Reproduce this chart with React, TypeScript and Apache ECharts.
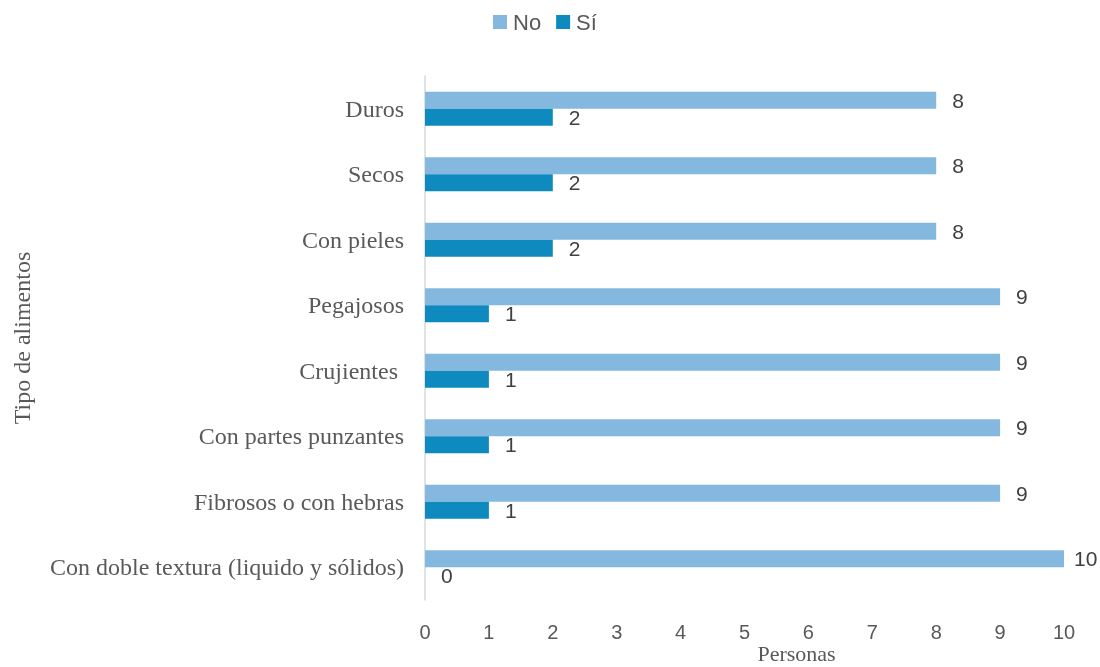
import React, { useEffect, useRef } from "react";
import * as echarts from "echarts";

const categories = [
  "Duros",
  "Secos",
  "Con pieles",
  "Pegajosos",
  "Crujientes ",
  "Con partes punzantes",
  "Fibrosos o con hebras",
  "Con doble textura (liquido y sólidos)",
];
const noValues = [8, 8, 8, 9, 9, 9, 9, 10];
const siValues = [2, 2, 2, 1, 1, 1, 1, 0];
const xTicks = [0, 1, 2, 3, 4, 5, 6, 7, 8, 9, 10];

const SANS = "Liberation Sans, Arial, sans-serif";
const SERIF = "Liberation Serif, Times New Roman, serif";

export default function App() {
  const ref = useRef<HTMLDivElement>(null);
  useEffect(() => {
    if (!ref.current) return;
    const chart = echarts.init(ref.current, undefined, { renderer: "svg" });
    const labelStyle = {
      show: true,
      position: "right",
      distance: 16,
      color: "#404040",
      fontSize: 21,
      fontFamily: SANS,
    };
    chart.setOption({
      animation: false,
      legend: {
        top: 6,
        left: 488,
        itemWidth: 14,
        itemHeight: 14,
        itemGap: 15,
        icon: "rect",
        textStyle: { fontSize: 22, color: "#595959", fontFamily: SANS, padding: [0, 0, 0, 1] },
        data: ["No", "Sí"],
      },
      grid: { left: 425, right: 36, top: 76, bottom: 67, outerBoundsMode: "none", containLabel: false },
      xAxis: {
        type: "value",
        min: xTicks[0],
        max: xTicks[xTicks.length - 1],
        interval: 1,
        name: "Personas",
        nameLocation: "middle",
        nameMoveOverlap: false,
        nameGap: 42,
        nameTextStyle: {
          fontSize: 22,
          color: "#595959",
          fontFamily: SERIF,
          padding: [0, 0, 0, 104],
        },
        axisLine: { show: false },
        axisTick: { show: false },
        splitLine: { show: false },
        axisLabel: { margin: 22, fontSize: 20, color: "#595959", fontFamily: SANS },
      },
      yAxis: {
        type: "category",
        inverse: true,
        data: categories,
        name: "Tipo de alimentos",
        nameLocation: "middle",
        nameMoveOverlap: false,
        nameGap: 391,
        nameTextStyle: { fontSize: 24, color: "#595959", fontFamily: SERIF },
        axisLine: { show: true, lineStyle: { color: "#d9d9d9", width: 1.5 } },
        axisTick: { show: false },
        axisLabel: { margin: 21, fontSize: 24, color: "#595959", fontFamily: SERIF },
      },
      series: [
        {
          name: "No",
          type: "bar",
          data: noValues.map((v) => (v >= 10 ? { value: v, label: { distance: 10 } } : v)),
          barWidth: 17,
          barGap: "0%",
          itemStyle: { color: "#84B8DE" },
          label: labelStyle,
        },
        {
          name: "Sí",
          type: "bar",
          data: siValues,
          barWidth: 17,
          barGap: "0%",
          itemStyle: { color: "#0E8ABF" },
          label: labelStyle,
        },
      ],
    });
    return () => chart.dispose();
  }, []);
  return <div ref={ref} style={{ position: "fixed", left: 0, top: 0, width: 1100, height: 667 }} />;
}
